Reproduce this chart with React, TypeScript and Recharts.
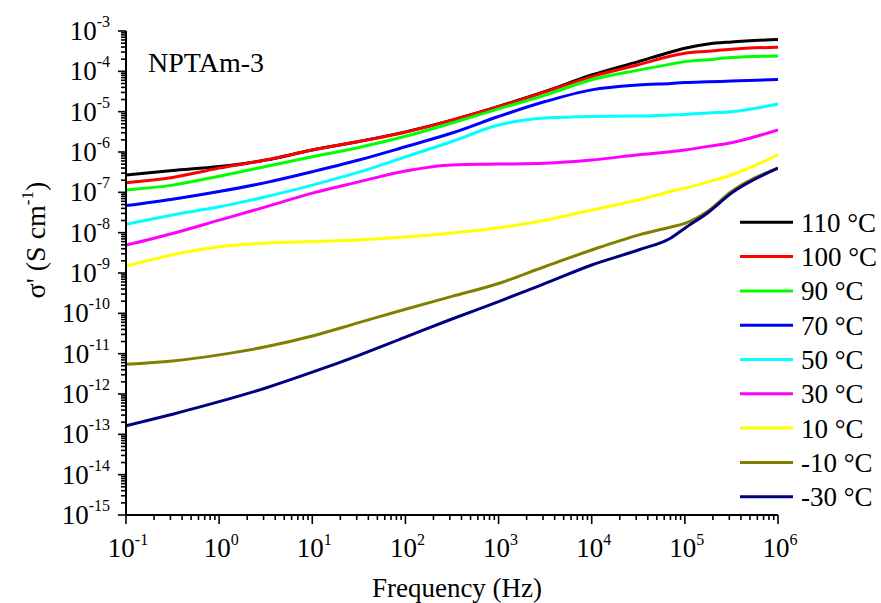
import React from 'react';
import { LineChart, Line, XAxis, YAxis } from 'recharts';

const FONT = 'Liberation Serif';

// Frequency (Hz)
const frequencies = [0.1, 0.316, 1, 3.16, 10, 31.6, 100, 316, 1000, 3162, 1e4, 31623, 70795, 1e5, 177828, 316228, 1e6];

// sigma' (S cm^-1) per temperature
const sigma110 = [2.69e-7, 3.47e-7, 4.37e-7, 6.31e-7, 1.12e-6, 1.82e-6, 3.16e-6, 6.17e-6, 1.35e-5, 3.16e-5, 8.13e-5, 1.74e-4, 3.02e-4, 3.72e-4, 4.79e-4, 5.37e-4, 6.17e-4];
const sigma100 = [1.74e-7, 2.34e-7, 3.98e-7, 6.31e-7, 1.12e-6, 1.82e-6, 3.09e-6, 6.17e-6, 1.32e-5, 3.09e-5, 7.41e-5, 1.45e-4, 2.40e-4, 2.82e-4, 3.16e-4, 3.55e-4, 3.98e-4];
const sigma90 = [1.15e-7, 1.51e-7, 2.51e-7, 4.37e-7, 7.59e-7, 1.29e-6, 2.45e-6, 5.25e-6, 1.17e-5, 2.57e-5, 6.17e-5, 1.07e-4, 1.51e-4, 1.74e-4, 1.95e-4, 2.19e-4, 2.40e-4];
const sigma70 = [4.68e-8, 6.76e-8, 1.05e-7, 1.74e-7, 3.24e-7, 6.31e-7, 1.35e-6, 2.95e-6, 7.59e-6, 1.78e-5, 3.47e-5, 4.57e-5, 5.01e-5, 5.25e-5, 5.50e-5, 5.75e-5, 6.31e-5];
const sigma50 = [1.62e-8, 2.75e-8, 4.37e-8, 7.76e-8, 1.51e-7, 3.16e-7, 7.59e-7, 1.82e-6, 4.68e-6, 6.92e-6, 7.59e-6, 7.76e-6, 8.32e-6, 8.51e-6, 9.33e-6, 1.0e-5, 1.55e-5];
const sigma30 = [4.90e-9, 9.55e-9, 2.04e-8, 4.37e-8, 9.55e-8, 1.82e-7, 3.39e-7, 4.79e-7, 5.01e-7, 5.25e-7, 6.31e-7, 8.51e-7, 1.02e-6, 1.12e-6, 1.38e-6, 1.70e-6, 3.55e-6];
const sigma10 = [1.48e-9, 2.82e-9, 4.47e-9, 5.50e-9, 6.03e-9, 6.61e-9, 7.76e-9, 9.77e-9, 1.32e-8, 2.04e-8, 3.63e-8, 6.46e-8, 1.05e-7, 1.26e-7, 1.82e-7, 2.69e-7, 8.51e-7];
const sigmaM10 = [5.50e-12, 6.61e-12, 9.33e-12, 1.48e-11, 2.75e-11, 5.89e-11, 1.26e-10, 2.63e-10, 5.50e-10, 1.45e-9, 3.72e-9, 8.71e-9, 1.38e-8, 1.70e-8, 3.47e-8, 1.05e-7, 3.98e-7];
const sigmaM30 = [1.62e-13, 3.16e-13, 6.46e-13, 1.41e-12, 3.47e-12, 9.12e-12, 2.57e-11, 7.24e-11, 1.95e-10, 5.50e-10, 1.58e-9, 3.72e-9, 7.41e-9, 1.29e-8, 3.16e-8, 9.55e-8, 3.98e-7];

const seriesNames = ['110 °C', '100 °C', '90 °C', '70 °C', '50 °C', '30 °C', '10 °C', '-10 °C', '-30 °C'];
const seriesColors = ['#000000', '#FF0000', '#00FF00', '#0000FF', '#00FFFF', '#FF00FF', '#FFFF00', '#808000', '#000080'];
const seriesValues = [sigma110, sigma100, sigma90, sigma70, sigma50, sigma30, sigma10, sigmaM10, sigmaM30];

const xMajorTicks = [0.1, 1, 10, 100, 1e3, 1e4, 1e5, 1e6];
const yMajorTicks = [1e-15, 1e-14, 1e-13, 1e-12, 1e-11, 1e-10, 1e-9, 1e-8, 1e-7, 1e-6, 1e-5, 1e-4, 1e-3];
const minorMultipliers = [2, 3, 4, 5, 6, 7, 8, 9];

const withMinor = (majors: number[]) => {
  const out: number[] = [];
  majors.forEach((m, i) => {
    out.push(m);
    if (i < majors.length - 1) minorMultipliers.forEach((k) => out.push(m * k));
  });
  return out;
};
const xTicks = withMinor(xMajorTicks);
const yTicks = withMinor(yMajorTicks);

const data = frequencies.map((f, i) => {
  const row: Record<string, number> = { f };
  seriesValues.forEach((arr, s) => {
    row['s' + s] = arr[i];
  });
  return row;
});

const isMajor = (v: number) => {
  const l = Math.log10(v);
  return Math.abs(l - Math.round(l)) < 1e-6;
};

const XTick = (props: any) => {
  const { x, y, payload } = props;
  const v = payload.value;
  const major = isMajor(v);
  return (
    <g>
      <line x1={x} x2={x} y1={y} y2={y + (major ? 9 : 5)} stroke="#000" strokeWidth={1.6} />
      {major && (
        <text x={x + 2} y={y + 42} textAnchor="middle" fontFamily={FONT} fontSize={27} fill="#000">
          <tspan>10</tspan>
          <tspan dy={-12} fontSize={16}>{String(Math.round(Math.log10(v)))}</tspan>
        </text>
      )}
    </g>
  );
};

const YTick = (props: any) => {
  const { x, y, payload } = props;
  const v = payload.value;
  const major = isMajor(v);
  return (
    <g>
      <line x1={x - (major ? 8 : 5)} x2={x} y1={y} y2={y} stroke="#000" strokeWidth={1.6} />
      {major && (
        <text x={x - 16} y={y + 9} textAnchor="end" fontFamily={FONT} fontSize={27} fill="#000">
          <tspan>10</tspan>
          <tspan dy={-13} fontSize={16}>{String(Math.round(Math.log10(v)))}</tspan>
        </text>
      )}
    </g>
  );
};

export default function App() {
  return (
    <div style={{ position: 'absolute', left: 0, top: 0, width: 881, height: 603, background: '#fff' }}>
      <LineChart
        width={881}
        height={603}
        data={data}
        margin={{ top: 31, right: 103, bottom: 28, left: 10 }}
      >
        <XAxis
          dataKey="f"
          type="number"
          scale="log"
          domain={[0.1, 1e6]}
          allowDataOverflow
          ticks={xTicks}
          interval={0}
          tick={<XTick />}
          tickLine={false}
          tickSize={0}
          tickMargin={0}
          height={60}
          axisLine={{ stroke: '#000', strokeWidth: 2 }}
        />
        <YAxis
          type="number"
          scale="log"
          domain={[1e-15, 1e-3]}
          allowDataOverflow
          ticks={yTicks}
          interval={0}
          tick={<YTick />}
          tickLine={false}
          tickSize={0}
          tickMargin={0}
          width={116}
          axisLine={{ stroke: '#000', strokeWidth: 2 }}
        />
        {seriesNames.map((n, i) => (
          <Line
            key={n}
            name={n}
            dataKey={'s' + i}
            type="monotone"
            stroke={seriesColors[i]}
            strokeWidth={3}
            dot={false}
            activeDot={false}
            isAnimationActive={false}
          />
        ))}
      </LineChart>
      <svg
        width={881}
        height={603}
        style={{ position: 'absolute', left: 0, top: 0, pointerEvents: 'none' }}
      >
        <text x={148} y={72} fontFamily={FONT} fontSize={28} fill="#000">NPTAm-3</text>
        <text x={457} y={597} textAnchor="middle" fontFamily={FONT} fontSize={27} fill="#000">Frequency (Hz)</text>
        <text
          transform="translate(45,240) rotate(-90)"
          textAnchor="middle"
          fontFamily={FONT}
          fontSize={28}
          fill="#000"
        >
          <tspan>σ' (S cm</tspan>
          <tspan dy={-12} fontSize={17}>-1</tspan>
          <tspan dy={12}>)</tspan>
        </text>
        {seriesNames.map((n, i) => (
          <g key={n}>
            <line x1={740} x2={793} y1={222.3 + i * 34.3} y2={222.3 + i * 34.3} stroke={seriesColors[i]} strokeWidth={3} />
            <text x={801} y={222.3 + i * 34.3 + 9.5} fontFamily={FONT} fontSize={27} fill="#000">{n}</text>
          </g>
        ))}
      </svg>
    </div>
  );
}
